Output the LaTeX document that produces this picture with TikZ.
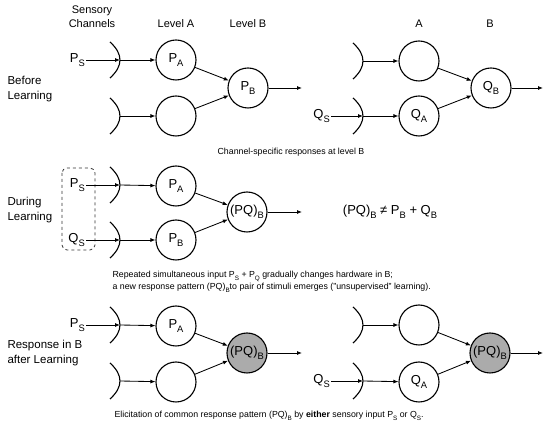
\documentclass[tikz,border=0pt]{standalone}
\usepackage{fontspec}
\setmainfont{Liberation Sans}
\usetikzlibrary{arrows.meta}

% letter with a lowered index
\newcommand{\idx}[2]{#1\raisebox{-0.32em}{\scalebox{0.72}{#2}}}
% receptor arc of a sensory channel, apex named #1
\newcommand{\sens}[3]{%
	\coordinate (#1) at (#2,#3);
	\draw[line width=1.1pt] ({#2-10},{#3-18}) .. controls ({#2+3.3},{#3-6}) and ({#2+3.3},{#3+6}) .. ({#2-10},{#3+18});
}

\begin{document}
\begin{tikzpicture}[x=1pt,y=-1pt,
	unit/.style={circle, draw, line width=1.1pt, minimum size=40pt, inner sep=0pt, font=\fontsize{13}{15}\selectfont},
	learned/.style={unit, fill=black!33},
	conn/.style={-{Latex[length=5pt,width=4pt]}, line width=0.85pt},
	inlabel/.style={inner sep=1pt, font=\fontsize{13}{15}\selectfont},
	head/.style={font=\fontsize{11}{14}\selectfont},
	rowlabel/.style={anchor=west, align=left, font=\fontsize{11.5}{14.5}\selectfont},
	caption/.style={font=\fontsize{8.8}{12}\selectfont}]
			\useasboundingbox (0,0) rectangle (550,427);

			% column heads
			\node[head, align=center] at (92,17) {Sensory\\Channels};
			\node[head] at (176,24) {Level A};
			\node[head] at (248,24) {Level B};
			\node[head] at (419,24) {A};
			\node[head] at (490,24) {B};

			% before learning
			\node[rowlabel] at (4,89) {Before\\Learning};
			\sens{c1}{120}{60}
			\sens{c2}{120}{116}
			\node[inlabel, anchor=east] (ps1) at (86,60) {\idx{P}{S}};
			\node[unit] (pa1) at (176,60) {\idx{P}{A}};
			\node[unit] (xa1) at (176,116) {};
			\node[unit] (pb1) at (248,88) {\idx{P}{B}};
			\coordinate (out1) at (302,88);
			\draw[conn] (ps1) -- (c1);
			\draw[conn] (c1) -- (pa1);
			\draw[conn] (c2) -- (xa1);
			\draw[conn] (pa1) -- (pb1);
			\draw[conn] (xa1) -- (pb1);
			\draw[conn] (pb1) -- (out1);

			\sens{c3}{363}{61}
			\sens{c4}{363}{116}
			\node[inlabel, anchor=east] (qs1) at (331,116) {\idx{Q}{S}};
			\node[unit] (xa2) at (419,61) {};
			\node[unit] (qa1) at (419,116) {\idx{Q}{A}};
			\node[unit] (qb1) at (491,88) {\idx{Q}{B}};
			\coordinate (out2) at (543,88);
			\draw[conn] (qs1) -- (c4);
			\draw[conn] (c3) -- (xa2);
			\draw[conn] (c4) -- (qa1);
			\draw[conn] (xa2) -- (qb1);
			\draw[conn] (qa1) -- (qb1);
			\draw[conn] (qb1) -- (out2);

			\node[caption] at (291,152) {Channel-specific responses at level B};

			% during learning
			\node[rowlabel] at (4,210) {During\\Learning};
			\sens{c5}{120}{185}
			\sens{c6}{120}{240}
			\node[inlabel, anchor=east] (ps2) at (86,185) {\idx{P}{S}};
			\node[inlabel, anchor=east] (qs2) at (86,240) {\idx{Q}{S}};
			\draw[dashed, rounded corners=5pt, line width=0.8pt, black!80] (62,168) rectangle (95,250);
			\node[unit] (pa2) at (176,186) {\idx{P}{A}};
			\node[unit] (pb2) at (176,240) {\idx{P}{B}};
			\node[unit] (pqb2) at (247,212) {\idx{(PQ)}{B}};
			\coordinate (out3) at (302,212);
			\draw[conn] (ps2) -- (c5);
			\draw[conn] (qs2) -- (c6);
			\draw[conn] (c5) -- (pa2);
			\draw[conn] (c6) -- (pb2);
			\draw[conn] (pa2) -- (pqb2);
			\draw[conn] (pb2) -- (pqb2);
			\draw[conn] (pqb2) -- (out3);

			\node[inlabel] at (390,212) {\idx{(PQ)}{B} ≠ \idx{P}{B} + \idx{Q}{B}};
			\node[caption, anchor=west, align=left] at (109,282) {Repeated simultaneous input \idx{P}{S} + \idx{P}{Q} gradually changes hardware in B;\\a new response pattern \idx{(PQ)}{B}to pair of stimuli emerges ("unsupervised" learning).};

			% response after learning
			\node[rowlabel] at (4,353) {Response in B\\after Learning};
			\sens{c7}{120}{325}
			\sens{c8}{120}{381}
			\node[inlabel, anchor=east] (ps3) at (86,325) {\idx{P}{S}};
			\node[unit] (pa3) at (176,326) {\idx{P}{A}};
			\node[unit] (xa3) at (176,382) {};
			\node[learned] (pqb3) at (247,353) {\idx{(PQ)}{B}};
			\coordinate (out4) at (302,353);
			\draw[conn] (ps3) -- (c7);
			\draw[conn] (c7) -- (pa3);
			\draw[conn] (c8) -- (xa3);
			\draw[conn] (pa3) -- (pqb3);
			\draw[conn] (xa3) -- (pqb3);
			\draw[conn] (pqb3) -- (out4);

			\sens{c9}{363}{325}
			\sens{c10}{363}{381}
			\node[inlabel, anchor=east] (qs3) at (331,381) {\idx{Q}{S}};
			\node[unit] (xa4) at (419,325) {};
			\node[unit] (qa2) at (419,382) {\idx{Q}{A}};
			\node[learned] (pqb4) at (490,353) {\idx{(PQ)}{B}};
			\coordinate (out5) at (543,353);
			\draw[conn] (qs3) -- (c10);
			\draw[conn] (c9) -- (xa4);
			\draw[conn] (c10) -- (qa2);
			\draw[conn] (xa4) -- (pqb4);
			\draw[conn] (qa2) -- (pqb4);
			\draw[conn] (pqb4) -- (out5);

			\node[caption, anchor=west] at (111,416) {Elicitation of common response pattern \idx{(PQ)}{B} by \textbf{either} sensory input \idx{P}{S} or \idx{Q}{S}.};
		\end{tikzpicture}
\end{document}
